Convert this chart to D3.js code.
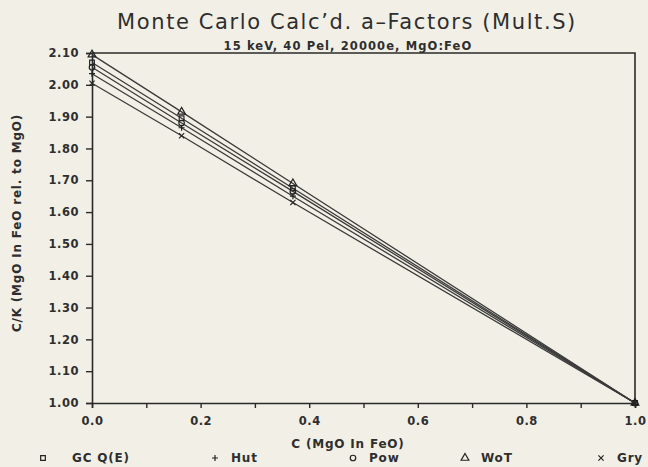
<!DOCTYPE html>
<html>
<head>
<meta charset="utf-8">
<script src="https://cdn.jsdelivr.net/npm/d3@7"></script>
<style>
  body { margin: 0; background: #f2f0e6; }
  svg { display: block; }
  text { fill: #2e2e2e; font-family: "DejaVu Sans", Verdana, sans-serif; }
</style>
</head>
<body>
<div id="chart-area"></div>
<script>
// series names (legend order)
const seriesNames = ['GC Q(E)', 'Hut', 'Pow', 'WoT', 'Gry']
// concentrations where the Monte Carlo points were computed
const concentrations = [0.0, 0.165, 0.37, 1.0]
// C/K values, one array per series
const gcValues  = [2.070, 1.895, 1.675, 1.000]
const hutValues = [2.035, 1.865, 1.650, 1.000]
const powValues = [2.055, 1.880, 1.665, 1.000]
const wotValues = [2.095, 1.915, 1.690, 1.000]
const gryValues = [2.005, 1.840, 1.630, 1.000]
const yTicks = [1.00, 1.10, 1.20, 1.30, 1.40, 1.50, 1.60, 1.70, 1.80, 1.90, 2.00, 2.10]
const xTicks = [0, 0.1, 0.2, 0.3, 0.4, 0.5, 0.6, 0.7, 0.8, 0.9, 1.0]
const xLabels = [0, 0.2, 0.4, 0.6, 0.8, 1.0]

const symbols = ['square', 'plus', 'circle', 'triangle', 'cross']
const valueArrays = [gcValues, hutValues, powValues, wotValues, gryValues]
const allSeries = seriesNames.map((name, i) => ({ name, symbol: symbols[i], values: valueArrays[i] }))

/* Canvas */
const CANVAS_WIDTH = 648
const CANVAS_HEIGHT = 467
const margin = { top: 53, left: 92, right: 13, bottom: 64 }
const width = CANVAS_WIDTH - margin.left - margin.right
const height = CANVAS_HEIGHT - margin.top - margin.bottom

const $svg = d3.select('#chart-area')
	.append('svg')
	.attr('width', CANVAS_WIDTH)
	.attr('height', CANVAS_HEIGHT)

$svg.append('rect')
	.attr('width', CANVAS_WIDTH)
	.attr('height', CANVAS_HEIGHT)
	.attr('fill', '#f2f0e6')

const $scene = $svg.append('g')
	.attr('transform', `translate(${margin.left}, ${margin.top})`)

/* Scales */
const xScale = d3.scaleLinear().domain([0, 1]).range([0, width])
const yScale = d3.scaleLinear().domain([1.0, 2.1]).range([height, 0])

/* Axes */
const xAxisCall = d3.axisBottom(xScale)
	.tickValues(xTicks)
	.tickSize(5)
	.tickFormat(d => xLabels.some(v => Math.abs(v - d) < 1e-9) ? d3.format('.1f')(d) : '')

const yAxisCall = d3.axisLeft(yScale)
	.tickValues(yTicks)
	.tickSize(6)
	.tickFormat(d3.format('.2f'))

const $xAxisGroup = $scene.append('g')
	.attr('transform', `translate(0, ${height})`)
	.call(xAxisCall)

const $yAxisGroup = $scene.append('g')
	.call(yAxisCall)

;[$xAxisGroup, $yAxisGroup].forEach($g => {
	$g.select('.domain').attr('stroke', '#2a2a2a').attr('stroke-width', 1.6)
	$g.selectAll('.tick line').attr('stroke', '#2a2a2a').attr('stroke-width', 1.4)
	$g.selectAll('.tick text')
		.attr('font-family', '"DejaVu Sans", Verdana, sans-serif')
		.attr('font-weight', 'bold')
		.attr('font-size', 11.5)
		.attr('letter-spacing', 0.5)
		.attr('fill', '#2e2e2e')
})
$xAxisGroup.selectAll('.tick text').attr('dy', '1.2em')
$yAxisGroup.selectAll('.tick text').attr('dx', '-0.35em')

// frame (top and right)
$scene.append('path')
	.attr('d', `M0,0 H${width} V${height}`)
	.attr('fill', 'none')
	.attr('stroke', '#2a2a2a')
	.attr('stroke-width', 1.6)

/* Lines and markers */
const line = d3.line()
	.x((d, i) => xScale(concentrations[i]))
	.y(d => yScale(d))

const symbolPath = {
	square: d3.symbol(d3.symbolSquare, 22)(),
	circle: d3.symbol(d3.symbolCircle, 24)(),
	triangle: d3.symbol(d3.symbolTriangle, 26)(),
	plus: 'M-3,0H3M0,-3V3',
	cross: 'M-2.6,-2.6L2.6,2.6M-2.6,2.6L2.6,-2.6'
}

const $series = $scene.selectAll('.series')
	.data(allSeries)
	.enter()
	.append('g')
	.attr('class', 'series')

$series.append('path')
	.attr('d', d => line(d.values))
	.attr('fill', 'none')
	.attr('stroke', '#3a3a3a')
	.attr('stroke-width', 1.3)

$series.selectAll('.marker')
	.data(d => d.values.map((v, i) => ({ v, c: concentrations[i], symbol: d.symbol })))
	.enter()
	.append('path')
	.attr('class', 'marker')
	.attr('transform', d => `translate(${xScale(d.c)}, ${yScale(d.v)})`)
	.attr('d', d => symbolPath[d.symbol])
	.attr('fill', 'none')
	.attr('stroke', '#222')
	.attr('stroke-width', 1.2)

/* Titles */
$svg.append('text')
	.attr('x', 347)
	.attr('y', 29)
	.attr('text-anchor', 'middle')
	.attr('font-size', 21)
	.attr('letter-spacing', 1.6)
	.text('Monte Carlo Calc\u2019d. a\u2013Factors (Mult.S)')

$svg.append('text')
	.attr('x', 348)
	.attr('y', 50)
	.attr('text-anchor', 'middle')
	.attr('font-size', 11.5)
	.attr('font-weight', 'bold')
	.attr('letter-spacing', 1.1)
	.text('15 keV, 40 Pel, 20000e, MgO:FeO')

$svg.append('text')
	.attr('transform', 'translate(21, 223) rotate(-90)')
	.attr('text-anchor', 'middle')
	.attr('font-size', 12)
	.attr('font-weight', 'bold')
	.attr('letter-spacing', 0.8)
	.text('C/K (MgO In FeO rel. to MgO)')

$svg.append('text')
	.attr('x', 348)
	.attr('y', 448)
	.attr('text-anchor', 'middle')
	.attr('font-size', 12)
	.attr('font-weight', 'bold')
	.attr('letter-spacing', 0.8)
	.text('C (MgO In FeO)')

/* Legend */
const legendX = [43, 215, 353, 465, 601]
const $legend = $svg.append('g')
	.attr('transform', 'translate(0, 458)')

const $items = $legend.selectAll('g')
	.data(allSeries)
	.enter()
	.append('g')
	.attr('transform', (d, i) => `translate(${legendX[i]}, 0)`)

$items.append('path')
	.attr('d', d => symbolPath[d.symbol])
	.attr('fill', 'none')
	.attr('stroke', '#222')
	.attr('stroke-width', 1.2)

$items.append('text')
	.attr('x', (d, i) => i === 0 ? 29 : 16)
	.attr('dy', '0.35em')
	.attr('font-size', 12)
	.attr('font-weight', 'bold')
	.attr('letter-spacing', 0.8)
	.text(d => d.name)
</script>
</body>
</html>
